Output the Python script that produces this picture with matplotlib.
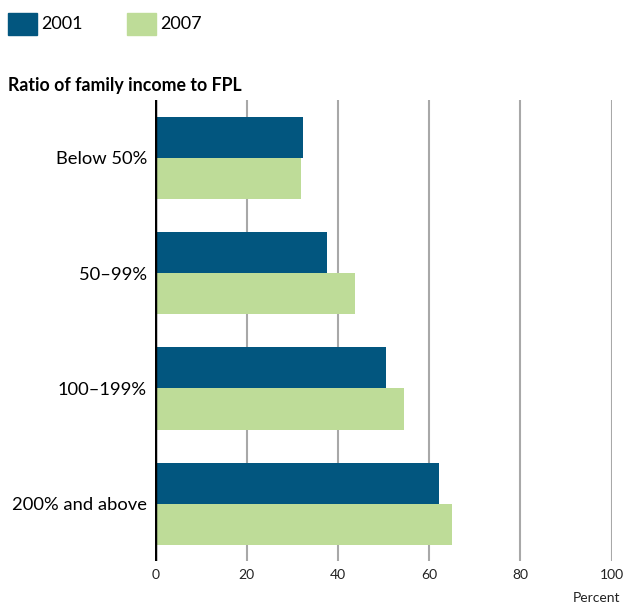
import matplotlib
matplotlib.use("Agg")
import matplotlib.pyplot as plt
from matplotlib.patches import Rectangle
import numpy as np

categories = ["Below 50%", "50\u201399%", "100\u2013199%", "200% and above"]
series_names = ["2001", "2007"]
values_2001 = [32.3, 37.7, 50.6, 62.1]
values_2007 = [31.9, 43.7, 54.4, 65.1]
xticks = [0, 20, 40, 60, 80, 100]

c2001 = "#02567f"
c2007 = "#bedc98"

W, H = 624, 603
fig = plt.figure(figsize=(W / 100, H / 100), dpi=100)
plt.rcParams['font.family'] = ['Lato', 'DejaVu Sans']

left, right, top, bottom = 155.3, 611.7, 100, 561
ax = fig.add_axes([left / W, 1 - bottom / H, (right - left) / W, (bottom - top) / H])

y = np.arange(len(categories))
h = 0.356
ax.barh(y - h / 2, values_2001, height=h, color=c2001, zorder=3)
ax.barh(y + h / 2, values_2007, height=h, color=c2007, zorder=3)

ax.set_xlim(0, 100)
ax.set_ylim(3.495, -0.50)
for t in xticks[1:]:
    ax.axvline(t, color="#a8a8a8", lw=1.5, zorder=1)
ax.axvline(0, color="black", lw=2.5, zorder=4)

for s in ax.spines.values():
    s.set_visible(False)
ax.set_xticks(xticks)
ax.set_xticklabels([str(t) for t in xticks], fontsize=10)
ax.tick_params(axis="x", length=0, pad=6, colors="#222222")
ax.set_yticks(y)
ax.set_yticklabels(categories, fontsize=13.2)
ax.tick_params(axis="y", length=0, pad=6)

fig.text(573 / W, 1 - 598 / H, "Percent", ha="left", va="center", fontsize=10, color="#222222")
fig.text(8 / W, 1 - 86 / H, "Ratio of family income to FPL", ha="left", va="center",
         fontsize=12.8, fontweight="bold")

# legend
for (x0, x1, tx), name, c in zip([(8, 37, 41), (127, 156, 160)], series_names, [c2001, c2007]):
    fig.patches.append(Rectangle((x0 / W, 1 - 35 / H), (x1 - x0) / W, 22 / H,
                                 transform=fig.transFigure, color=c))
    fig.text(tx / W, 1 - 24 / H, name, ha="left", va="center", fontsize=13)

fig.savefig("out.png", dpi=100)
